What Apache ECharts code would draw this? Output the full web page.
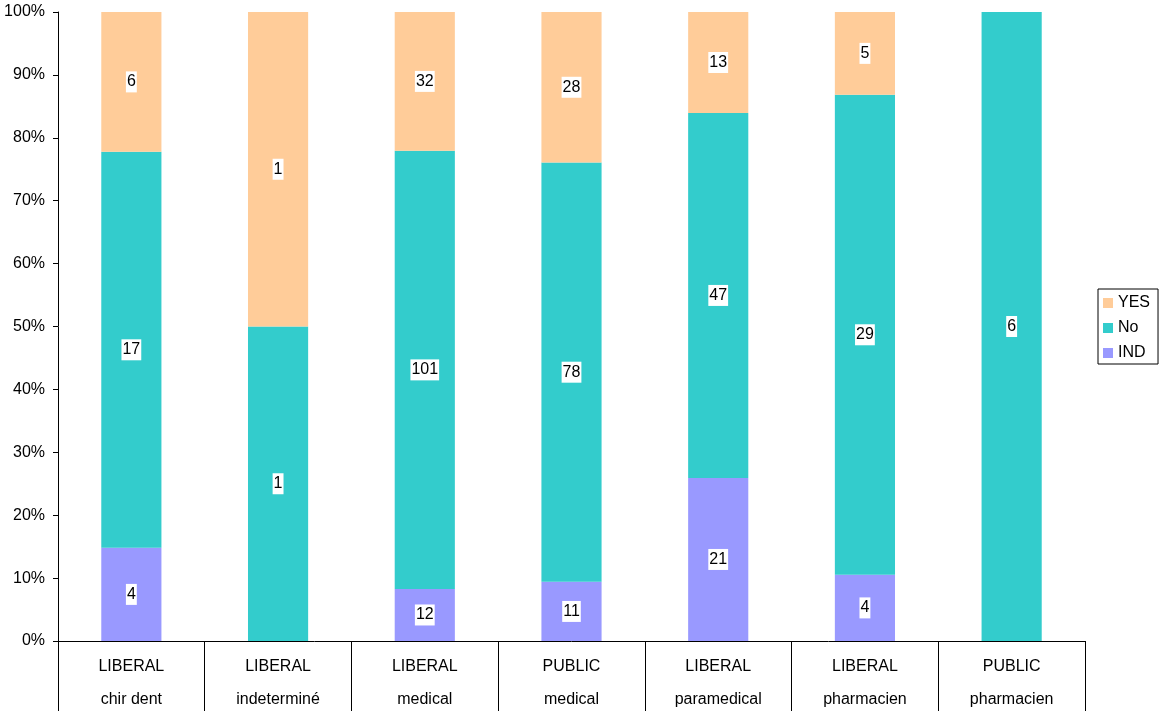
<!DOCTYPE html>
<html><head><meta charset="utf-8">
<script src="https://cdn.jsdelivr.net/npm/echarts@6/dist/echarts.min.js"></script>
<style>html,body{margin:0;padding:0;background:#fff}#c{width:1159px;height:711px}</style>
</head><body><div id="c"></div>
<script>
var sectors = ['LIBERAL','LIBERAL','LIBERAL','PUBLIC','LIBERAL','LIBERAL','PUBLIC'];
var professions = ['chir dent','indeterminé','medical','medical','paramedical','pharmacien','pharmacien'];
var ind = [4, 0, 12, 11, 21, 4, 0];
var no = [17, 1, 101, 78, 47, 29, 6];
var yes = [6, 1, 32, 28, 13, 5, 0];
var yTicks = [0,10,20,30,40,50,60,70,80,90,100];

var categories = sectors.map(function(s,i){return s+'\n'+professions[i];});
var totals = ind.map(function(v,i){return v+no[i]+yes[i];});
function pct(arr){return arr.map(function(v,i){
  var d = {value: v/totals[i]*100, count: v};
  if (v === 0) d.label = {show:false};
  return d;
});}

var font = 'Liberation Sans, Arial, sans-serif';
function mk(name, arr, color){
  return {name:name, type:'bar', stack:'s', barWidth:'41%', data:pct(arr),
    itemStyle:{color:color},
    label:{show:true, position:'inside', color:'#000', fontFamily:font, fontSize:16,
      backgroundColor:'#fff', padding:[3,1,2,1],
      formatter:function(p){return String(p.data.count);}},
  };
}
var chart = echarts.init(document.getElementById('c'));
chart.setOption({
  animation:false,
  grid:{left:58, right:74, top:12, bottom:70, containLabel:false, outerBoundsMode:'none'},
  legend:{orient:'vertical', left:1098, top:289, data:['YES','No','IND'],
    itemWidth:10, itemHeight:10, itemGap:9, icon:'rect',
    borderColor:'#000', borderWidth:1, padding:[6,8,3,5],
    textStyle:{fontFamily:font, fontSize:16, color:'#000'}},
  xAxis:{type:'category', data:categories,
    axisLine:{lineStyle:{color:'#000', width:1}},
    axisTick:{show:true, length:70, interval:0, lineStyle:{color:'#000'}},
    axisLabel:{interval:0, fontFamily:font, fontSize:16, color:'#000', lineHeight:33, margin:9}},
  yAxis:{type:'value', min:yTicks[0], max:yTicks[yTicks.length-1], interval:10,
    axisLine:{show:true, lineStyle:{color:'#000'}},
    axisTick:{show:true, length:5, lineStyle:{color:'#000'}},
    splitLine:{show:false},
    axisLabel:{formatter:'{value}%', fontFamily:font, fontSize:16, color:'#000', margin:13}},
  series:[mk('IND', ind, '#9999FF'), mk('No', no, '#33CCCC'), mk('YES', yes, '#FFCC99')]
});
</script></body></html>
